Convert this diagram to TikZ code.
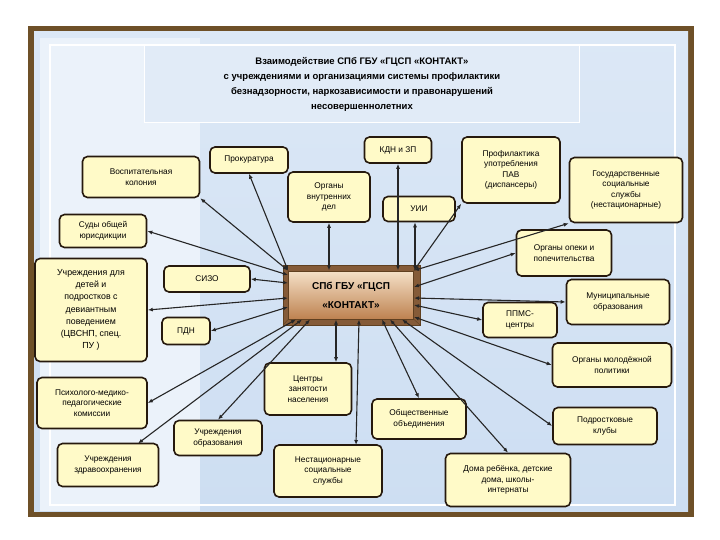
\documentclass[tikz,border=0pt]{standalone}
\usepackage{fontspec}
\setmainfont{Liberation Sans}
\usetikzlibrary{arrows.meta}
\definecolor{boxy}{RGB}{255,250,200}
\definecolor{frameb}{RGB}{110,80,40}
\definecolor{bgb}{RGB}{205,222,242}
\definecolor{hubl}{RGB}{245,225,200}
\definecolor{hubd}{RGB}{190,130,80}
\begin{document}
\begin{tikzpicture}[x=1pt,y=-1pt,
  bx/.style={draw=black!80!brown,line width=1.6pt,rounded corners=5pt,fill=boxy,align=center,
    font=\fontsize{8.3}{10.5}\selectfont,inner sep=2pt},
  ln/.style={{Latex[length=5pt,width=4pt]}-{Latex[length=5pt,width=4pt]},line width=1.1pt,black!85}]
\useasboundingbox (0,0) rectangle (720,540);
\fill[white] (0,0) rectangle (720,540);
\fill[frameb] (28,26) rectangle (694,517);
\shade[top color=bgb!70,bottom color=bgb] (34,32) rectangle (688,511);
\fill[white!60!bgb] (40,38) rectangle (200,511);
\draw[white,line width=1.2pt] (50,45) rectangle (675,505);
% title
\node[draw=white,line width=1.5pt,fill=bgb!60,minimum width=435pt,minimum height=77pt,align=center,
  font=\bfseries\fontsize{9.5}{15}\selectfont] (title) at (362,84)
  {Взаимодействие СПб ГБУ «ГЦСП «КОНТАКТ»\\с учреждениями и организациями системы профилактики\\безнадзорности, наркозависимости и правонарушений\\несовершеннолетних};
% hub
\fill[hubd!70!black] (283,265) rectangle (420,325);
\node[draw=brown!50!black,line width=1pt,top color=hubl,bottom color=hubd,minimum width=125pt,minimum height=48pt,align=center,
  font=\bfseries\fontsize{10}{19}\selectfont] (hub) at (351,295) {СПб ГБУ «ГЦСП\\«КОНТАКТ»};
\draw[brown!50!black,line width=0.8pt] (283,265) rectangle (420,325);
\draw[brown!50!black] (283,265)--(288.5,271) (420,265)--(413.5,271) (283,325)--(288.5,319) (420,325)--(413.5,319);
% nodes
\node[bx,minimum width=67pt,minimum height=26pt] (kdn) at (398,150) {КДН и ЗП};
\node[bx,minimum width=98pt,minimum height=66pt] (pav) at (511,170) {Профилактика\\употребления\\ПАВ\\(диспансеры)};
\node[bx,minimum width=113pt,minimum height=65pt] (gss) at (626,190) {Государственные\\социальные\\службы\\(нестационарные)};
\node[bx,minimum width=78pt,minimum height=26pt] (prok) at (249,160) {Прокуратура};
\node[bx,minimum width=117pt,minimum height=41pt] (vk) at (141,177) {Воспитательная\\колония};
\node[bx,minimum width=82pt,minimum height=50pt] (ovd) at (329,197) {Органы\\внутренних\\дел};
\node[bx,minimum width=72pt,minimum height=25pt] (uii) at (419,209) {УИИ};
\node[bx,minimum width=87pt,minimum height=33pt] (sud) at (103,231) {Суды общей\\юрисдикции};
\node[bx,minimum width=95pt,minimum height=46pt] (opek) at (564,253) {Органы опеки и\\попечительства};
\node[bx,minimum width=112pt,minimum height=103pt,font=\fontsize{8.8}{12.2}\selectfont] (uch) at (91,310) {Учреждения для\\детей и\\подростков с\\девиантным\\поведением\\(ЦВСНП, спец.\\ПУ )};
\node[bx,minimum width=86pt,minimum height=26pt] (sizo) at (207,279) {СИЗО};
\node[bx,minimum width=103pt,minimum height=45pt] (mun) at (618,302) {Муниципальные\\образования};
\node[bx,minimum width=74pt,minimum height=35pt] (ppms) at (520,320) {ППМС-\\центры};
\node[bx,minimum width=48pt,minimum height=27pt] (pdn) at (186,331) {ПДН};
\node[bx,minimum width=119pt,minimum height=44pt] (mol) at (612,365) {Органы молодёжной\\политики};
\node[bx,minimum width=87pt,minimum height=52pt] (czn) at (308,389) {Центры\\занятости\\населения};
\node[bx,minimum width=110pt,minimum height=51pt] (pmpk) at (92,403) {Психолого-медико-\\педагогические\\комиссии};
\node[bx,minimum width=94pt,minimum height=40pt] (obsh) at (419,419) {Общественные\\объединения};
\node[bx,minimum width=104pt,minimum height=37pt] (podr) at (605,426) {Подростковые\\клубы};
\node[bx,minimum width=88pt,minimum height=35pt] (obr) at (218,438) {Учреждения\\образования};
\node[bx,minimum width=101pt,minimum height=43pt] (zdr) at (108,465) {Учреждения\\здравоохранения};
\node[bx,minimum width=108pt,minimum height=52pt] (nest) at (328,471) {Нестационарные\\социальные\\службы};
\node[bx,minimum width=125pt,minimum height=53pt] (dom) at (508,480) {Дома ребёнка, детские\\дома, школы-\\интернаты};
\coordinate (zdrt) at (138,443.5);
\coordinate (nestt) at (356,445);
% connectors
\draw[ln] (hub.north -| kdn.south) -- (kdn.south);
\draw[ln] (hub.north -| ovd.south) -- (ovd.south);
\draw[ln] (hub.north -| 415,0) -- (uii.south -| 415,0);
\draw[ln] (hub.north east) -- (pav.south west);
\draw[ln] (hub.north east) -- (gss.south west);
\draw[ln] (hub.north west) -- (prok.south);
\draw[ln] (hub.north west) -- (vk.south east);
\draw[ln] (hub.west) ++(0,-20) -- (sud.east);
\draw[ln] (hub.east) ++(0,-8) -- (opek.west);
\draw[ln] (hub.west) ++(0,-12) -- (sizo.east);
\draw[ln] (hub.west) ++(0,3) -- (uch.east);
\draw[ln] (hub.west) ++(0,12) -- (pdn.east);
\draw[ln] (hub.east) ++(0,3) -- (mun.west);
\draw[ln] (hub.east) ++(0,10) -- (ppms.west);
\draw[ln] (hub.east) ++(0,22) -- (mol.west);
\draw[ln] (hub.south west) ++(8,0) -- (pmpk.east);
\draw[ln] (hub.south west) ++(14,0) -- (zdrt);
\draw[ln] (hub.south west) ++(22,0) -- (obr.north);
\draw[ln] (hub.south) ++(-15,0) -- (czn.north -| 336,0);
\draw[ln] (hub.south) ++(8,0) -- (nestt);
\draw[ln] (hub.south east) ++(-32,0) -- (obsh.north);
\draw[ln] (hub.south east) ++(-24,0) -- (dom.north);
\draw[ln] (hub.south east) ++(-12,0) -- (podr.west);
\end{tikzpicture}
\end{document}
